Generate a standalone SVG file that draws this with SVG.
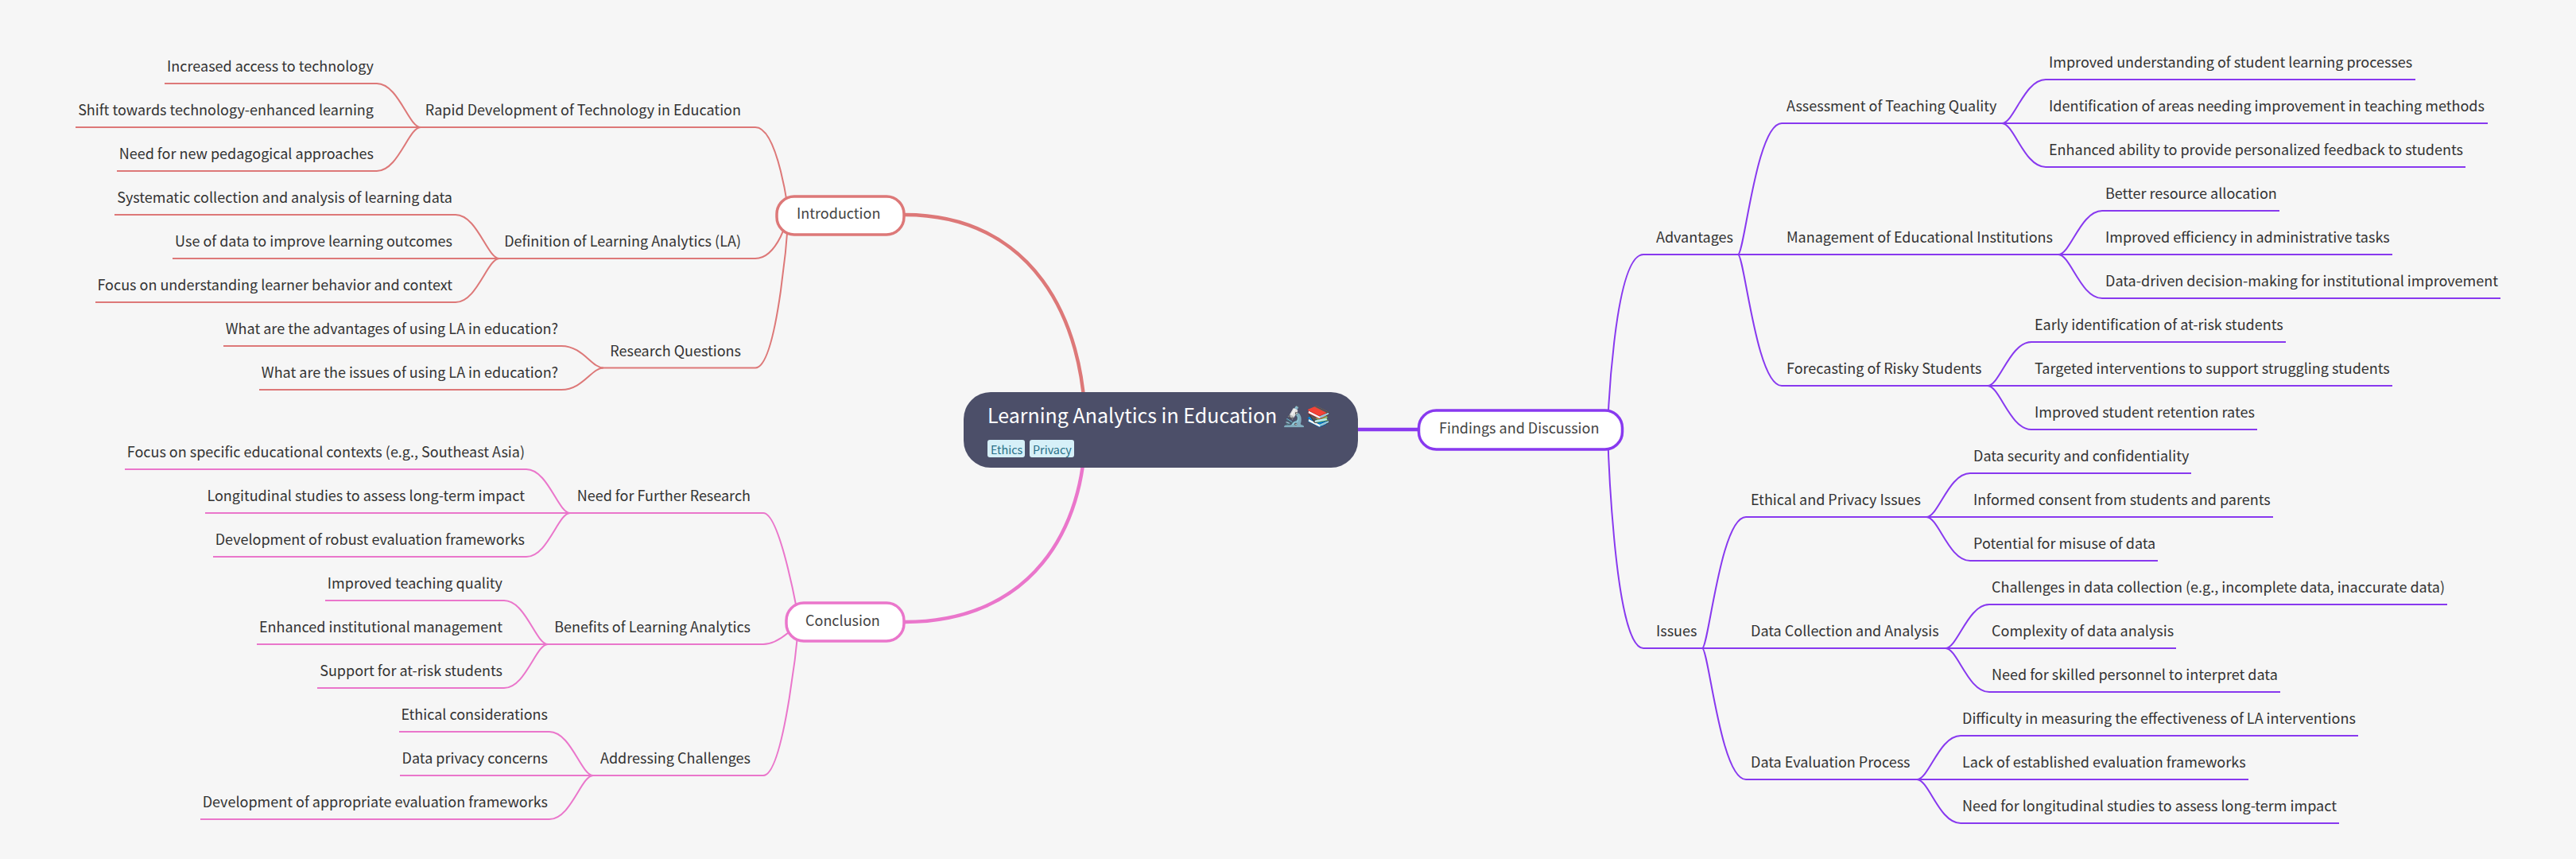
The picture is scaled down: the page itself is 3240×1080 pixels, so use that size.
<svg xmlns="http://www.w3.org/2000/svg" width="3240" height="1080" viewBox="0 0 3240 1080">
<style>
text{font-family:"Noto Sans CJK SC","Noto Sans",sans-serif;font-size:18px;fill:#333}
.e{text-anchor:end}
.box{fill:#fff;stroke-width:3.5}
.m{fill:#444}
path{fill:none;stroke-width:2}
.r{stroke:#dd7878}.p{stroke:#ea76cb}.v{stroke:#8839ef}
.tag{fill:#d6f0f8}
.tt{font-size:14.4px;fill:#276f86}
</style>
<rect width="3240" height="1080" fill="#f6f6f6"/>
<g id="connectors">
<path class="r" style="stroke-width:4.500" d="M1138 270C1297 270 1365 400 1365 540"/>
<path class="p" style="stroke-width:4.500" d="M1138 782C1297 782 1365 665 1365 540"/>
<path class="v" style="stroke-width:4.500" d="M1700 540H1790"/>
<path class="r" d="M992 270C992 270 979 160 950 160H529"/>
<path class="r" d="M992 270C992 270 979 325 950 325H628"/>
<path class="r" d="M992 270C992 270 979 462.500 950 462.500H759"/>
<path class="r" d="M529 160C514 160 501 105 474 105H207"/>
<path class="r" d="M529 160H95"/>
<path class="r" d="M529 160C514 160 501 215 474 215H147"/>
<path class="r" d="M628 325C613 325 600 270 573 270H144"/>
<path class="r" d="M628 325H217"/>
<path class="r" d="M628 325C613 325 600 380 573 380H120"/>
<path class="r" d="M759 462.500C744 462.500 733 435 706 435H281"/>
<path class="r" d="M759 462.500C744 462.500 733 490 706 490H326"/>
<path class="p" d="M1005 782C1005 782 982 645 960 645H717"/>
<path class="p" d="M1005 782C1005 782 982 810 960 810H689"/>
<path class="p" d="M1005 782C1005 782 987 975 960 975H746"/>
<path class="p" d="M717 645C702 645 689 590 662 590H157"/>
<path class="p" d="M717 645H258"/>
<path class="p" d="M717 645C702 645 689 700 662 700H268"/>
<path class="p" d="M689 810C674 810 661 755 634 755H409"/>
<path class="p" d="M689 810H323"/>
<path class="p" d="M689 810C674 810 661 865 634 865H399"/>
<path class="p" d="M746 975C731 975 718 920 691 920H502"/>
<path class="p" d="M746 975H503"/>
<path class="p" d="M746 975C731 975 718 1030 691 1030H252"/>
<path class="v" d="M2022 540C2022 540 2029 320 2067 320H2186"/>
<path class="v" d="M2022 540C2022 540 2029 815 2067 815H2141"/>
<path class="v" d="M2186 320C2194 320 2209 155 2241 155H2518"/>
<path class="v" d="M2186 320H2589"/>
<path class="v" d="M2186 320C2194 320 2209 485 2241 485H2500"/>
<path class="v" d="M2518 155C2533 155 2546 100 2573 100H3038"/>
<path class="v" d="M2518 155H3129"/>
<path class="v" d="M2518 155C2533 155 2546 210 2573 210H3101"/>
<path class="v" d="M2589 320C2604 320 2617 265 2644 265H2867"/>
<path class="v" d="M2589 320H3009"/>
<path class="v" d="M2589 320C2604 320 2617 375 2644 375H3145"/>
<path class="v" d="M2500 485C2515 485 2528 430 2555 430H2875"/>
<path class="v" d="M2500 485H3009"/>
<path class="v" d="M2500 485C2515 485 2528 540 2555 540H2839"/>
<path class="v" d="M2141 815C2149 815 2164 650 2196 650H2423"/>
<path class="v" d="M2141 815H2447"/>
<path class="v" d="M2141 815C2149 815 2164 980 2196 980H2411"/>
<path class="v" d="M2423 650C2438 650 2451 595 2478 595H2756"/>
<path class="v" d="M2423 650H2859"/>
<path class="v" d="M2423 650C2438 650 2451 705 2478 705H2714"/>
<path class="v" d="M2447 815C2462 815 2475 760 2502 760H3078"/>
<path class="v" d="M2447 815H2737"/>
<path class="v" d="M2447 815C2462 815 2475 870 2502 870H2868"/>
<path class="v" d="M2411 980C2426 980 2439 925 2466 925H2966"/>
<path class="v" d="M2411 980H2828"/>
<path class="v" d="M2411 980C2426 980 2439 1035 2466 1035H2942"/>
</g>
<g id="root">
<rect x="1212" y="493" width="496" height="95" rx="34" fill="#4c4f69"/>
<text x="1242" y="532" style="font-size:25px;fill:#fff">Learning Analytics in Education 🔬📚</text>
<rect class="tag" x="1242" y="553" width="47" height="22" rx="3"/>
<text class="tt" x="1246" y="571">Ethics</text>
<rect class="tag" x="1295" y="553" width="56" height="22" rx="3"/>
<text class="tt" x="1299" y="571">Privacy</text>
</g>
<g id="n-intro"><rect class="box r" x="977" y="247" width="160" height="48" rx="22"/><text class="m" x="1002" y="275">Introduction</text></g>
<g id="n-conc"><rect class="box p" x="989" y="758" width="148" height="48" rx="22"/><text class="m" x="1013" y="787">Conclusion</text></g>
<g id="n-find"><rect class="box v" x="1784.500" y="516" width="256" height="49" rx="22"/><text class="m" x="1810" y="545">Findings and Discussion</text></g>
<g id="n-rapid"><text class="e" x="932" y="145">Rapid Development of Technology in Education</text></g>
<g id="n-l1"><text class="e" x="470" y="90">Increased access to technology</text></g>
<g id="n-l2"><text class="e" x="470" y="145">Shift towards technology-enhanced learning</text></g>
<g id="n-l3"><text class="e" x="470" y="200">Need for new pedagogical approaches</text></g>
<g id="n-def"><text class="e" x="932" y="310">Definition of Learning Analytics (LA)</text></g>
<g id="n-l4"><text class="e" x="569" y="255">Systematic collection and analysis of learning data</text></g>
<g id="n-l5"><text class="e" x="569" y="310">Use of data to improve learning outcomes</text></g>
<g id="n-l6"><text class="e" x="569" y="365">Focus on understanding learner behavior and context</text></g>
<g id="n-rq"><text class="e" x="932" y="447.500">Research Questions</text></g>
<g id="n-l7"><text class="e" x="702" y="420">What are the advantages of using LA in education?</text></g>
<g id="n-l8"><text class="e" x="702" y="475">What are the issues of using LA in education?</text></g>
<g id="n-nfr"><text class="e" x="944" y="630">Need for Further Research</text></g>
<g id="n-l9"><text class="e" x="660" y="575">Focus on specific educational contexts (e.g., Southeast Asia)</text></g>
<g id="n-l10"><text class="e" x="660" y="630">Longitudinal studies to assess long-term impact</text></g>
<g id="n-l11"><text class="e" x="660" y="685">Development of robust evaluation frameworks</text></g>
<g id="n-ben"><text class="e" x="944" y="795">Benefits of Learning Analytics</text></g>
<g id="n-l12"><text class="e" x="632" y="740">Improved teaching quality</text></g>
<g id="n-l13"><text class="e" x="632" y="795">Enhanced institutional management</text></g>
<g id="n-l14"><text class="e" x="632" y="850">Support for at-risk students</text></g>
<g id="n-add"><text class="e" x="944" y="960">Addressing Challenges</text></g>
<g id="n-l15"><text class="e" x="689" y="905">Ethical considerations</text></g>
<g id="n-l16"><text class="e" x="689" y="960">Data privacy concerns</text></g>
<g id="n-l17"><text class="e" x="689" y="1015">Development of appropriate evaluation frameworks</text></g>
<g id="n-adv"><text x="2083" y="305">Advantages</text></g>
<g id="n-ass"><text x="2247" y="140">Assessment of Teaching Quality</text></g>
<g id="n-r1"><text x="2577" y="85">Improved understanding of student learning processes</text></g>
<g id="n-r2"><text x="2577" y="140">Identification of areas needing improvement in teaching methods</text></g>
<g id="n-r3"><text x="2577" y="195">Enhanced ability to provide personalized feedback to students</text></g>
<g id="n-mgt"><text x="2247" y="305">Management of Educational Institutions</text></g>
<g id="n-r4"><text x="2648" y="250">Better resource allocation</text></g>
<g id="n-r5"><text x="2648" y="305">Improved efficiency in administrative tasks</text></g>
<g id="n-r6"><text x="2648" y="360">Data-driven decision-making for institutional improvement</text></g>
<g id="n-fore"><text x="2247" y="470">Forecasting of Risky Students</text></g>
<g id="n-r7"><text x="2559" y="415">Early identification of at-risk students</text></g>
<g id="n-r8"><text x="2559" y="470">Targeted interventions to support struggling students</text></g>
<g id="n-r9"><text x="2559" y="525">Improved student retention rates</text></g>
<g id="n-iss"><text x="2083" y="800">Issues</text></g>
<g id="n-eth"><text x="2202" y="635">Ethical and Privacy Issues</text></g>
<g id="n-r10"><text x="2482" y="580">Data security and confidentiality</text></g>
<g id="n-r11"><text x="2482" y="635">Informed consent from students and parents</text></g>
<g id="n-r12"><text x="2482" y="690">Potential for misuse of data</text></g>
<g id="n-col"><text x="2202" y="800">Data Collection and Analysis</text></g>
<g id="n-r13"><text x="2505" y="745">Challenges in data collection (e.g., incomplete data, inaccurate data)</text></g>
<g id="n-r14"><text x="2505" y="800">Complexity of data analysis</text></g>
<g id="n-r15"><text x="2505" y="855">Need for skilled personnel to interpret data</text></g>
<g id="n-evl"><text x="2202" y="965">Data Evaluation Process</text></g>
<g id="n-r16"><text x="2468" y="910">Difficulty in measuring the effectiveness of LA interventions</text></g>
<g id="n-r17"><text x="2468" y="965">Lack of established evaluation frameworks</text></g>
<g id="n-r18"><text x="2468" y="1020">Need for longitudinal studies to assess long-term impact</text></g>
</svg>
